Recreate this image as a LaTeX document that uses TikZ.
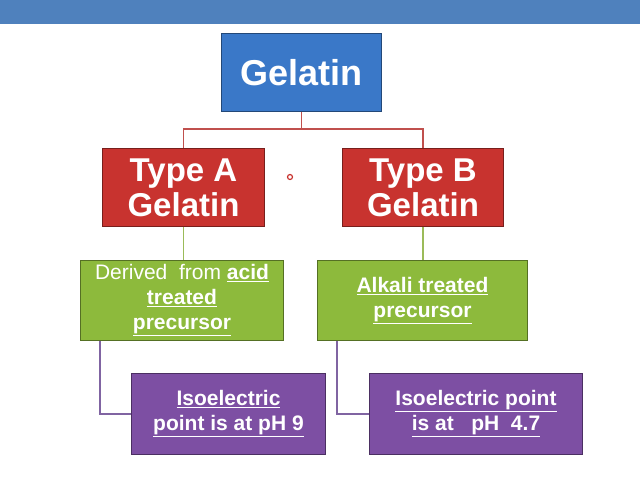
\documentclass[tikz,border=0pt]{standalone}
\usepackage{fontspec}
\setmainfont{Liberation Sans}
\definecolor{bar}{HTML}{4F81BD}
\definecolor{bl}{HTML}{3A78C8}
\definecolor{rd}{HTML}{C8332F}
\definecolor{gr}{HTML}{8DBA3C}
\definecolor{pu}{HTML}{7D4FA3}
\definecolor{rl}{HTML}{C0504D}
\definecolor{gl}{HTML}{9BBB59}
\definecolor{pl}{HTML}{8064A2}
\newcommand{\ul}[1]{\underline{#1}}
\begin{document}
\begin{tikzpicture}[x=1pt,y=-1pt,
  box/.style={draw=#1!60!black,line width=1pt,fill=#1,text=white,font=\bfseries,align=center,inner sep=0pt,anchor=north west},
  ln/.style={draw=#1,line width=1.5pt}]
\useasboundingbox (0,0) rectangle (640,480);
\fill[white] (0,0) rectangle (640,480);
\fill[bar] (0,0) rectangle (640,24);
\node[box=bl,minimum width=160pt,minimum height=78pt,font=\bfseries\fontsize{36}{40}\selectfont] (g) at (221,33) {Gelatin};
\node[box=rd,minimum width=162pt,minimum height=78pt,font=\bfseries\fontsize{33}{35}\selectfont] (a) at (102,148) {Type A\\Gelatin};
\node[box=rd,minimum width=161pt,minimum height=78pt,font=\bfseries\fontsize{33}{35}\selectfont] (b) at (342,148) {Type B\\Gelatin};
\node[box=gr,minimum width=203pt,minimum height=80pt,font=\bfseries\fontsize{21}{25}\selectfont] (ga) at (80,260) {{\mdseries Derived\ \ from} \ul{acid}\\\ul{treated}\\\ul{precursor}};
\node[box=gr,minimum width=210pt,minimum height=80pt,font=\bfseries\fontsize{21}{25}\selectfont] (gb) at (317,260) {\ul{Alkali treated}\\\ul{precursor}};
\node[box=pu,minimum width=194pt,minimum height=81pt,font=\bfseries\fontsize{21}{25}\selectfont] (pa) at (131,373) {\ul{Isoelectric}\\\ul{point is at pH 9}};
\node[box=pu,minimum width=213pt,minimum height=81pt,font=\bfseries\fontsize{21}{25}\selectfont] (pb) at (369,373) {\ul{Isoelectric point}\\\ul{is at\ \ \ pH\ \ 4.7}};
\draw[ln=rl] (g.south) -- ++(0,17) -| (a.north);
\draw[ln=rl] (g.south) -- ++(0,17) -| (b.north);
\draw[ln=gl] (a.south) -- (ga.north-|a.south);
\draw[ln=gl] (b.south) -- (gb.north-|b.south);
\draw[ln=pl] (ga.south west) ++(20,0) |- (pa.west);
\draw[ln=pl] (gb.south west) ++(20,0) |- (pb.west);
\draw[rd,line width=1.2pt] (290,177) circle (2.5);
\end{tikzpicture}
\end{document}
